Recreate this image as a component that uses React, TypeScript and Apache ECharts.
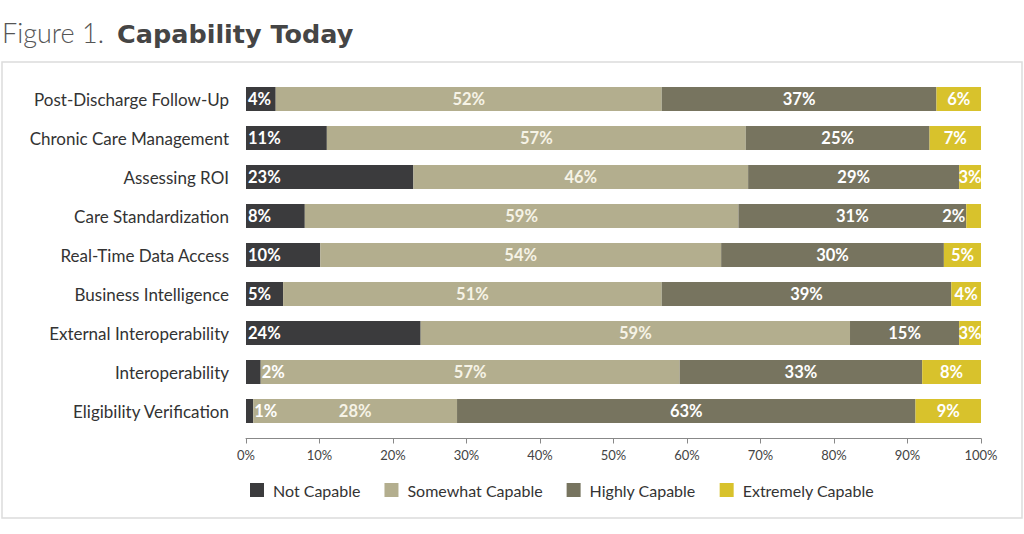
import React, { useEffect, useRef } from "react";
import * as echarts from "echarts";

const categories = [
  "Post-Discharge Follow-Up",
  "Chronic Care Management",
  "Assessing ROI",
  "Care Standardization",
  "Real-Time Data Access",
  "Business Intelligence",
  "External Interoperability",
  "Interoperability",
  "Eligibility Verification",
];
const notCapable = [4, 11, 23, 8, 10, 5, 24, 2, 1];
const somewhatCapable = [52, 57, 46, 59, 54, 51, 59, 57, 28];
const highlyCapable = [37, 25, 29, 31, 30, 39, 15, 33, 63];
const extremelyCapable = [6, 7, 3, 2, 5, 4, 3, 8, 9];
const seriesNames = ["Not Capable", "Somewhat Capable", "Highly Capable", "Extremely Capable"];
const xTicks = ["0%", "10%", "20%", "30%", "40%", "50%", "60%", "70%", "80%", "90%", "100%"];

const COLORS = ["#3b3b3d", "#b3ae8e", "#77745f", "#d8c22c"];
const FONT = "Lato, 'Open Sans', sans-serif";

export default function App() {
  const ref = useRef<HTMLDivElement>(null);
  useEffect(() => {
    document.body.style.margin = "0";
    if (!ref.current) return;
    const chart = echarts.init(ref.current, null, { renderer: "svg" });
    const all = [notCapable, somewhatCapable, highlyCapable, extremelyCapable];
    const totals = categories.map((_, i) => all.reduce((s, arr) => s + arr[i], 0));
    const order = categories.map((_, i) => categories.length - 1 - i);

    const series = all.map((arr, si) => ({
      name: seriesNames[si],
      type: "bar",
      stack: "total",
      barWidth: 24,
      itemStyle: { color: COLORS[si] },
      data: order.map((i) => {
        const v = arr[i];
        let label: any = {
          show: true,
          position: "inside",
          color: si === 1 ? "#f6f3e6" : "#ffffff",
          fontFamily: FONT,
          fontWeight: "bold",
          fontSize: 16.5,
          formatter: () => v + "%",
        };
        if (si === 0) {
          if (v < 3) label = { ...label, position: "right", distance: 1 };
          else label = { ...label, position: "insideLeft", distance: 2 };
        }
        if (si === 3 && v < 3) {
          label = { ...label, position: "left", distance: 1 };
        }
        return { value: (v / totals[i]) * 100, label };
      }),
    }));

    chart.setOption({
      animation: false,
      backgroundColor: "#ffffff",
      graphic: [
        {
          type: "rect",
          shape: { x: 2, y: 62, width: 1020, height: 456 },
          style: { fill: "none", stroke: "#dcdcdc", lineWidth: 1.5 },
          silent: true,
        },
        {
          type: "text",
          x: 2,
          y: 46,
          style: {
            text: "Figure 1.",
            fontFamily: FONT,
            fontSize: 27,
            fontWeight: 300,
            fill: "#555555",
            verticalAlign: "bottom",
          },
        },
        {
          type: "text",
          x: 117,
          y: 47,
          style: {
            text: "Capability Today",
            fontFamily: "'DejaVu Sans', sans-serif",
            fontSize: 25.5,
            fontWeight: "bold",
            fill: "#454545",
            verticalAlign: "bottom",
          },
        },
      ],
      legend: {
        left: 245,
        top: 477,
        itemWidth: 14,
        itemHeight: 14,
        itemGap: 24,
        icon: "rect",
        textStyle: { fontFamily: FONT, fontSize: 16, color: "#333333", padding: [0, 0, 0, 4] },
        data: seriesNames,
      },
      grid: { left: 246, right: 43, top: 79.5, bottom: 534 - 430.5 },
      xAxis: {
        type: "value",
        min: 0,
        max: 100,
        interval: 10,
        offset: 8,
        axisLine: { show: true, lineStyle: { color: "#888888", width: 1 } },
        axisTick: { show: true, length: 5, lineStyle: { color: "#888888" } },
        splitLine: { show: false },
        axisLabel: {
          fontFamily: FONT,
          fontSize: 13,
          color: "#444444",
          margin: 10,
          formatter: (val: number) => xTicks[Math.round(val / 10)],
        },
      },
      yAxis: {
        type: "category",
        data: order.map((i) => categories[i]),
        axisLine: { show: false },
        axisTick: { show: false },
        axisLabel: { fontFamily: FONT, fontSize: 17, color: "#333333", margin: 17 },
      },
      series,
    });
    return () => chart.dispose();
  }, []);
  return <div ref={ref} style={{ position: "fixed", left: 0, top: 0, width: 1024, height: 534 }} />;
}
